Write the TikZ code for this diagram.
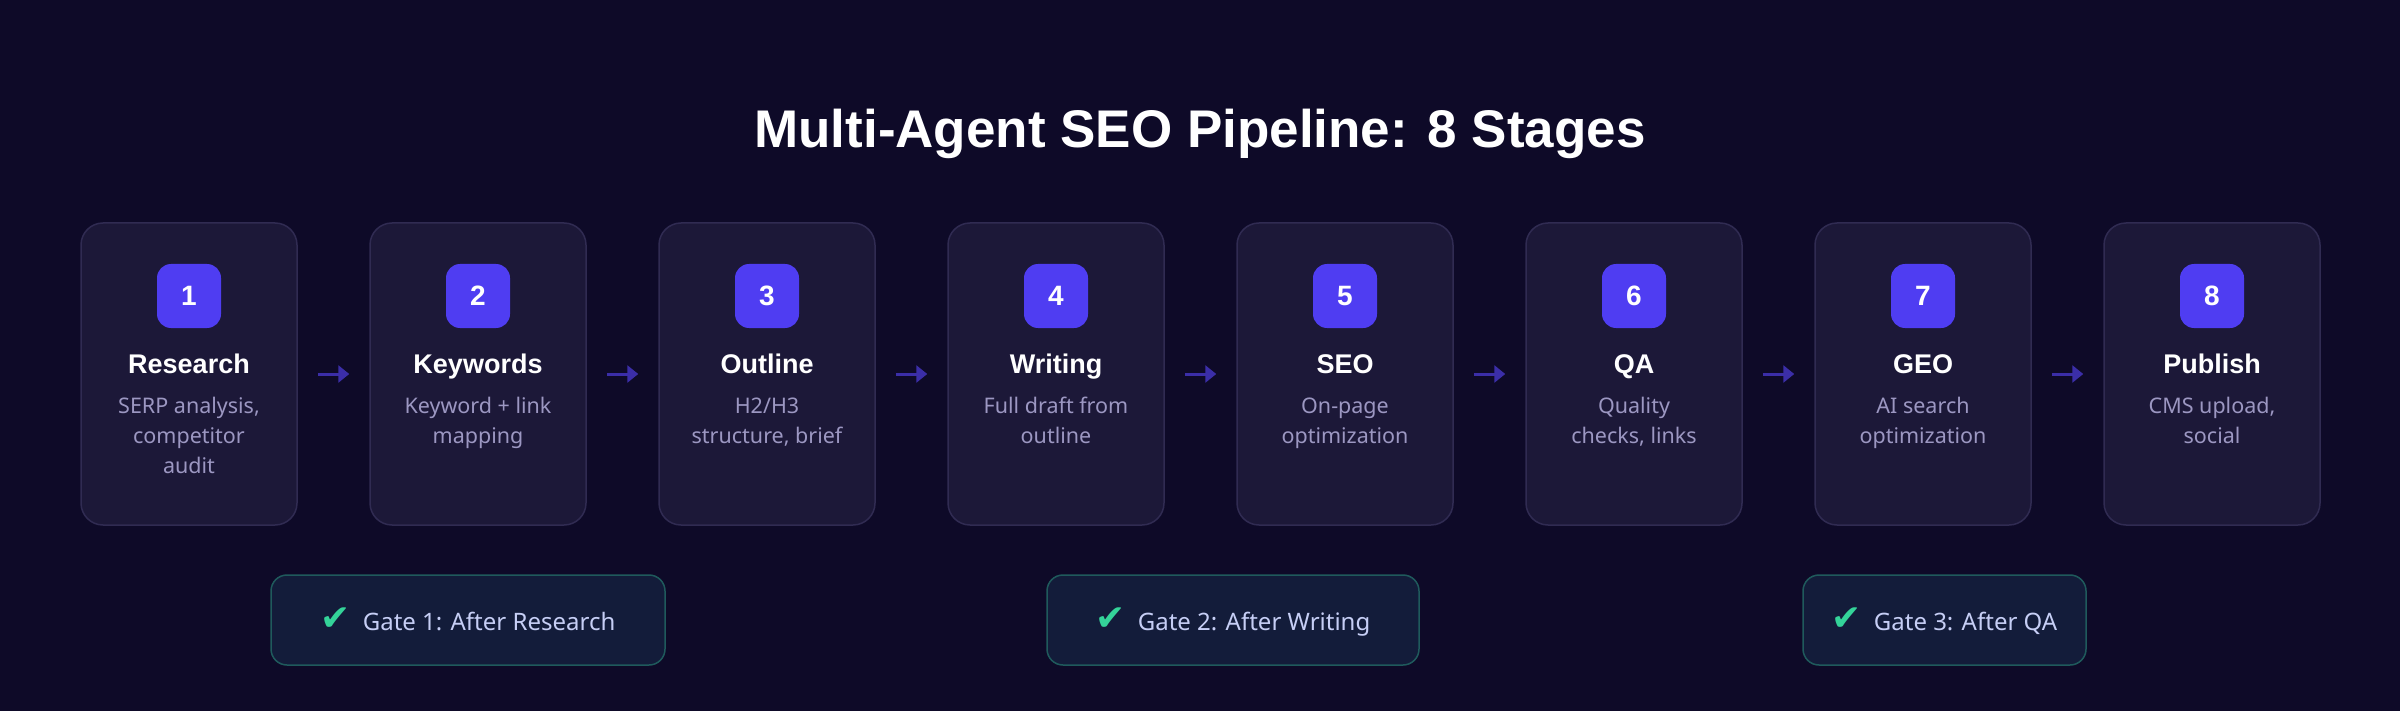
\documentclass[tikz,border=0pt]{standalone}
\usepackage{fontspec}
\setmainfont{Noto Sans}
\newfontfamily\headfont{Liberation Sans}
\newfontfamily\symfont{DejaVu Sans}
\usetikzlibrary{arrows.meta}
\definecolor{bg}{HTML}{0E0A28}
\definecolor{boxfill}{HTML}{1C1838}
\definecolor{boxline}{HTML}{302B52}
\definecolor{badgecol}{HTML}{4F3DF2}
\definecolor{desccol}{HTML}{9C97C2}
\definecolor{arrowcol}{HTML}{3B2EA8}
\definecolor{gatefill}{HTML}{131C3A}
\definecolor{gateline}{HTML}{1F5A5C}
\definecolor{gatetext}{HTML}{C6CEF5}
\definecolor{checkcol}{HTML}{34D399}
\tikzset{
  stagebox/.style={draw=boxline, fill=boxfill, line width=1.5pt, rounded corners=22pt,
    minimum width=216pt, minimum height=302pt, inner sep=0pt},
  badge/.style={fill=badgecol, rounded corners=14pt, minimum width=64pt, minimum height=64pt,
    inner sep=0pt, text=white, font=\headfont\bfseries\fontsize{28}{30}\selectfont},
  stagetitle/.style={anchor=base, inner sep=0pt, text=white, font=\headfont\bfseries\fontsize{27}{30}\selectfont},
  desc/.style={anchor=base, inner sep=0pt, text=desccol, font=\fontsize{21.5}{30}\selectfont},
  flow/.style={draw=arrowcol, line width=3pt, shorten <=20pt, shorten >=20pt,
    -{Triangle[length=11pt,width=17pt]}},
  gate/.style={draw=gateline, fill=gatefill, line width=1.5pt, rounded corners=16pt,
    minimum height=90pt, inner sep=0pt, text height=20pt, text depth=0pt,
    text=gatetext, font=\fontsize{24}{28}\selectfont},
}
\newcommand{\chk}{{\symfont\color{checkcol}\fontsize{36}{36}\selectfont ✔}\hspace{12pt}}
\begin{document}
\begin{tikzpicture}[x=1pt,y=-1pt]
\fill[bg] (0,0) rectangle (2400,711);
\useasboundingbox (0,0) rectangle (2400,711);
\node[anchor=base, inner sep=0pt, text=white, font=\headfont\bfseries\fontsize{53}{60}\selectfont] (title) at (1200,148) {Multi-Agent SEO Pipeline: 8 Stages};
\foreach \i/\nm/\la/\lb/\lc in {
  1/Research/{SERP analysis,}/competitor/audit,
  2/Keywords/{Keyword + link}/mapping/{},
  3/Outline/{H2/H3}/{structure, brief}/{},
  4/Writing/{Full draft from}/outline/{},
  5/SEO/On-page/optimization/{},
  6/QA/Quality/{checks, links}/{},
  7/GEO/{AI search}/optimization/{},
  8/Publish/{CMS upload,}/social/{}} {
  \pgfmathsetmacro{\cx}{189+289*(\i-1)}
  \node[stagebox] (s\i) at (\cx,374) {};
  \node[badge] (b\i) at (\cx,296) {\i};
  \node[stagetitle] (t\i) at (\cx,373) {\nm};
  \node[desc] (da\i) at (\cx,413) {\la};
  \node[desc] (db\i) at (\cx,443) {\lb};
  \node[desc] (dc\i) at (\cx,473) {\lc};
}
\foreach \i [evaluate=\i as \j using int(\i+1)] in {1,...,7} {
  \draw[flow] (s\i.east) -- (s\j.west);
}
\node[gate, minimum width=394pt] (g1) at (468,620) {\chk Gate 1: After Research};
\node[gate, minimum width=372pt] (g2) at (1233,620) {\chk Gate 2: After Writing};
\node[gate, minimum width=283pt] (g3) at (1944.5,620) {\chk Gate 3: After QA};
\end{tikzpicture}
\end{document}
